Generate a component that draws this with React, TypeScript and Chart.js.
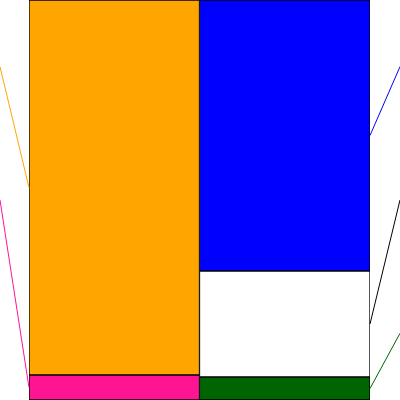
import React, { useRef, useEffect } from 'react';
import { Chart, ChartConfiguration, Plugin, registerables } from 'chart.js';

Chart.register(...registerables);

// two columns: assets (left) and liabilities + equity (right), shares in %
const categories = ['left', 'right'];
const segmentNames = ['pink', 'orange', 'green', 'white', 'blue'];
const segmentColors = ['#FF1493', '#FFA500', '#006400', '#FFFFFF', '#0000FF'];
const leaderColors = ['#FF1493', '#FFA500', '#006400', '#000000', '#0000FF'];
const leftValues = [6.25, 93.75, null, null, null];
const rightValues = [null, null, 5.75, 26.5, 67.75];
// label slot (out of 3, top to bottom) each leader line points to
const labelSlots = [1, 0, 2, 1, 0];

const leaderLines: Plugin<'bar'> = {
  id: 'leaderLines',
  afterDatasetsDraw(chart) {
    const ctx = chart.ctx;
    const h = chart.height;
    const w = chart.width;
    ctx.save();
    ctx.lineWidth = 1;
    chart.data.datasets.forEach((ds, i) => {
      const meta = chart.getDatasetMeta(i);
      const colIdx = leftValues[i] != null ? 0 : 1;
      const el: any = meta.data[colIdx];
      if (!el) return;
      const props = el.getProps(['x', 'y', 'base', 'width'], true);
      const midY = (props.y + props.base) / 2;
      const targetY = (h * (labelSlots[i] + 0.5)) / 3;
      ctx.strokeStyle = leaderColors[i];
      ctx.beginPath();
      if (colIdx === 0) {
        ctx.moveTo(props.x - props.width / 2, midY);
        ctx.lineTo(0, targetY);
      } else {
        ctx.moveTo(props.x + props.width / 2, midY);
        ctx.lineTo(w, targetY);
      }
      ctx.stroke();
    });
    ctx.restore();
  },
};

const App: React.FC = () => {
  const chartRef = useRef<HTMLCanvasElement>(null);
  const chartInstance = useRef<Chart | null>(null);

  useEffect(() => {
    if (chartRef.current && !chartInstance.current) {
      const config: ChartConfiguration<'bar'> = {
        type: 'bar',
        data: {
          labels: categories,
          datasets: segmentNames.map((name, i) => ({
            label: name,
            data: [leftValues[i], rightValues[i]] as any,
            backgroundColor: segmentColors[i],
            borderColor: '#000000',
            borderWidth: 1,
            borderSkipped: false,
            categoryPercentage: 1,
            barPercentage: 1,
          })),
        },
        options: {
          responsive: false,
          animation: false,
          layout: { padding: { left: 29, right: 30, top: 0, bottom: 0 } },
          plugins: {
            legend: { display: false },
            tooltip: { enabled: false },
          },
          scales: {
            x: { stacked: true, display: false },
            y: { stacked: true, display: false, min: 0, max: 100 },
          },
        },
        plugins: [leaderLines],
      };
      chartInstance.current = new Chart(chartRef.current, config);
    }
    return () => {
      if (chartInstance.current) {
        chartInstance.current.destroy();
        chartInstance.current = null;
      }
    };
  }, []);

  return (
    <div style={{ position: 'absolute', left: 0, top: 0, width: 400, height: 400, background: '#fff' }}>
      <canvas ref={chartRef} width={400} height={400}></canvas>
    </div>
  );
};

export default App;
